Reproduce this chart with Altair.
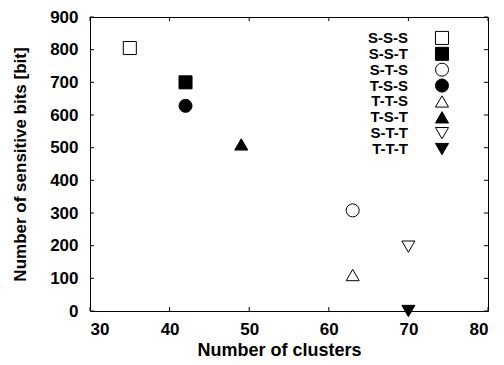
import altair as alt
import pandas as pd

names = ["S-S-S", "S-S-T", "S-T-S", "T-S-S", "T-T-S", "T-S-T", "S-T-T", "T-T-T"]
clusters = [35, 42, 63, 42, 63, 49, 70, 70]
bits = [805, 700, 308, 628, 110, 510, 197, 0]
shapes = ["square", "square", "circle", "circle", "triangle-up", "triangle-up", "triangle-down", "triangle-down"]
fills = ["white", "black", "white", "black", "white", "black", "white", "black"]
x_ticks = [30, 40, 50, 60, 70, 80]
y_ticks = [0, 100, 200, 300, 400, 500, 600, 700, 800, 900]

W, H = 398, 294
FONT = "Liberation Sans"

df = pd.DataFrame({"name": names, "clusters": clusters, "bits": bits})
xt = pd.DataFrame({"v": x_ticks})
yt = pd.DataFrame({"v": y_ticks})
leg = pd.DataFrame({"name": names})

xscale = alt.Scale(domain=[30, 80], nice=False, zero=False)
yscale = alt.Scale(domain=[0, 900], nice=False)
shape_scale = alt.Scale(domain=names, range=shapes)
fill_scale = alt.Scale(domain=names, range=fills)

xaxis = alt.Axis(title="Number of clusters", values=x_ticks, ticks=False, domain=False, grid=False,
                 labelFont=FONT, labelFontSize=17, labelFontWeight="bold", labelColor="black",
                 labelPadding=10, titleFont=FONT, titleFontSize=18, titleFontWeight="bold",
                 titleColor="black", titlePadding=4, titleX=189)
yaxis = alt.Axis(title="Number of sensitive bits [bit]", values=y_ticks, ticks=False, domain=False,
                 grid=False, labelFont=FONT, labelFontSize=17, labelFontWeight="bold",
                 labelColor="black", labelPadding=12, titleFont=FONT, titleFontSize=17,
                 titleFontWeight="bold", titleColor="black", titlePadding=20)

points = alt.Chart(df).mark_point(filled=False, stroke="black", strokeWidth=1, size=170, opacity=1).encode(
    x=alt.X("clusters:Q", scale=xscale, axis=xaxis),
    y=alt.Y("bits:Q", scale=yscale, axis=yaxis),
    shape=alt.Shape("name:N", scale=shape_scale, legend=None),
    fill=alt.Fill("name:N", scale=fill_scale, legend=None),
)

tick_style = dict(color="black", strokeWidth=1)
xb = alt.Chart(xt).mark_rule(**tick_style).encode(
    x=alt.X("v:Q", scale=xscale, axis=xaxis), y=alt.value(H), y2=alt.value(H - 4))
xtp = alt.Chart(xt).mark_rule(**tick_style).encode(
    x=alt.X("v:Q", scale=xscale, axis=xaxis), y=alt.value(0), y2=alt.value(4))
yl = alt.Chart(yt).mark_rule(**tick_style).encode(
    y=alt.Y("v:Q", scale=yscale, axis=yaxis), x=alt.value(0), x2=alt.value(4))
yr = alt.Chart(yt).mark_rule(**tick_style).encode(
    y=alt.Y("v:Q", scale=yscale, axis=yaxis), x=alt.value(W), x2=alt.value(W - 4))

main = alt.layer(points, xb, xtp, yl, yr)

leg_y = alt.Y("name:N", sort=names, scale=alt.Scale(type="point", domain=names, range=[13, 140]), axis=None)
leg_text = alt.Chart(leg).mark_text(align="right", baseline="middle", font=FONT, fontSize=15,
                                    fontWeight="bold", color="black").encode(
    x=alt.value(318), y=leg_y, text="name:N")
leg_pts = alt.Chart(leg).mark_point(filled=False, stroke="black", strokeWidth=1, size=170, opacity=1).encode(
    x=alt.value(352), y=leg_y,
    shape=alt.Shape("name:N", scale=shape_scale, legend=None),
    fill=alt.Fill("name:N", scale=fill_scale, legend=None),
)
legend = alt.layer(leg_text, leg_pts)

chart = alt.layer(main, legend).resolve_scale(y="independent").properties(
    width=W, height=H, autosize="none",
    padding={"left": 90, "top": 17, "right": 16, "bottom": 54},
    background="white",
).configure_view(stroke="black", strokeWidth=1)

chart.save("out.html", embed_options={"renderer": "svg", "actions": False})
